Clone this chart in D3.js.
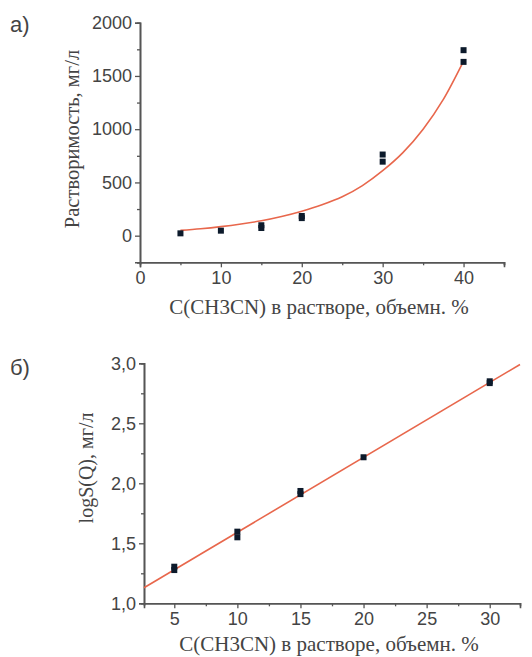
<!DOCTYPE html>
<html lang="ru">
<head>
<meta charset="utf-8">
<title>Растворимость</title>
<script src="https://d3js.org/d3.v7.min.js"></script>
<style>
  body { margin: 0; background: #fff; }
  svg text { fill: #444; }
</style>
</head>
<body>
<svg id="chart" width="532" height="657"></svg>
<script>
// chart a) — solubility vs CH3CN content
var aPointsX = [5, 10, 15, 15, 20, 20, 30, 30, 40, 40];
var aPointsY = [22, 47, 72, 98, 165, 185, 695, 762, 1632, 1742];
var aCurveX = [5, 7.5, 10, 12.5, 15, 17.5, 20, 22.5, 25, 27.5, 30, 32.5, 35, 37.5, 40];
var aCurveY = [50, 65, 85, 110, 140, 180, 230, 290, 365, 470, 610, 780, 1000, 1280, 1640];
var aYTicks = [0, 500, 1000, 1500, 2000];
var aXTicks = [0, 10, 20, 30, 40];

// chart б) — log of solubility
var bPointsX = [5, 5, 10, 10, 15, 15, 20, 30, 30];
var bPointsY = [1.277, 1.305, 1.55, 1.597, 1.91, 1.936, 2.217, 2.835, 2.85];
var bLineX = [2.6, 32.4];
var bLineY = [1.13, 2.99];
var bYTicks = [1.0, 1.5, 2.0, 2.5, 3.0];
var bXTicks = [5, 10, 15, 20, 25, 30];

var xTitle = "C(CH3CN) в растворе, объемн. %";

var svg = d3.select("#chart");
var axisColor = "#555";
var lineColor = "#e8674c";
var markColor = "#0c1a2b";

function drawPanel(opt) {
  var g = svg.append("g");
  var x = d3.scaleLinear().domain(opt.xDomain).range(opt.xRange);
  var y = d3.scaleLinear().domain(opt.yDomain).range(opt.yRange);

  // minor ticks
  var yAxisMinor = d3.axisLeft(y).tickValues(opt.yMinor).tickSize(3).tickFormat("");
  var xAxisMinor = d3.axisBottom(x).tickValues(opt.xMinor).tickSize(3).tickFormat("");
  g.append("g").attr("transform", "translate(" + opt.xRange[0] + ",0)").call(yAxisMinor);
  g.append("g").attr("transform", "translate(0," + opt.yRange[0] + ")").call(xAxisMinor);

  var yAxis = d3.axisLeft(y).tickValues(opt.yTicks).tickSize(5).tickPadding(3).tickFormat(opt.yFmt);
  var xAxis = d3.axisBottom(x).tickValues(opt.xTicks).tickSize(5).tickPadding(4).tickFormat(d3.format("d"));
  g.append("g").attr("transform", "translate(" + opt.xRange[0] + ",0)").call(yAxis);
  g.append("g").attr("transform", "translate(0," + opt.yRange[0] + ")").call(xAxis);

  g.selectAll(".domain").attr("stroke", axisColor).attr("stroke-width", 1.6);
  g.selectAll(".tick line").attr("stroke", axisColor).attr("stroke-width", 1.3);
  g.selectAll(".tick text")
    .style("font-family", "'Liberation Sans', Arial, sans-serif")
    .style("font-size", "18px")
    .attr("fill", "#555");

  // fitted line
  var line = d3.line().x(function(d) { return x(d[0]); }).y(function(d) { return y(d[1]); }).curve(d3.curveMonotoneX);
  g.append("path")
    .datum(opt.lineX.map(function(v, i) { return [v, opt.lineY[i]]; }))
    .attr("d", line)
    .attr("fill", "none")
    .attr("stroke", lineColor)
    .attr("stroke-width", 1.6);

  // points
  g.selectAll("rect.pt")
    .data(opt.ptsX.map(function(v, i) { return [v, opt.ptsY[i]]; }))
    .enter().append("rect")
    .attr("class", "pt")
    .attr("x", function(d) { return x(d[0]) - 3; })
    .attr("y", function(d) { return y(d[1]) - 3; })
    .attr("width", 6)
    .attr("height", 6)
    .attr("fill", markColor);

  // titles
  g.append("text")
    .attr("x", opt.xTitlePos[0]).attr("y", opt.xTitlePos[1])
    .attr("text-anchor", "middle")
    .style("font-family", "'Liberation Serif', 'Times New Roman', serif")
    .style("font-size", "21px")
    .attr("fill", "#555")
    .text(xTitle);
  g.append("text")
    .attr("transform", "translate(" + opt.yTitlePos[0] + "," + opt.yTitlePos[1] + ") rotate(-90)")
    .attr("text-anchor", "middle")
    .style("font-family", "'Liberation Serif', 'Times New Roman', serif")
    .style("font-size", opt.yTitleSize)
    .attr("fill", "#555")
    .text(opt.yTitle);
  g.append("text")
    .attr("x", opt.labelPos[0]).attr("y", opt.labelPos[1])
    .style("font-family", "'Liberation Sans', Arial, sans-serif")
    .style("font-size", "22px")
    .attr("fill", "#222")
    .text(opt.label);
}

drawPanel({
  xDomain: [0, 45], xRange: [140, 504],
  yDomain: [-250, 2000], yRange: [262.3, 22.7],
  xTicks: aXTicks, yTicks: aYTicks,
  xMinor: [5, 15, 25, 35, 45], yMinor: [-250, 250, 750, 1250, 1750],
  yFmt: d3.format("d"),
  lineX: aCurveX, lineY: aCurveY,
  ptsX: aPointsX, ptsY: aPointsY,
  xTitlePos: [319, 314], yTitlePos: [79, 139],
  yTitle: "Растворимость, мг/л", yTitleSize: "20.5px",
  label: "а)", labelPos: [10, 32]
});

drawPanel({
  xDomain: [2.6, 32.4], xRange: [144, 520],
  yDomain: [1.0, 3.0], yRange: [603.3, 363.3],
  xTicks: bXTicks, yTicks: bYTicks,
  xMinor: [2.5, 7.5, 12.5, 17.5, 22.5, 27.5, 32.5].filter(function(v) { return v >= 2.6 && v <= 32.4; }),
  yMinor: [1.25, 1.75, 2.25, 2.75],
  yFmt: function(d) { return d3.format(".1f")(d).replace(".", ","); },
  lineX: bLineX, lineY: bLineY,
  ptsX: bPointsX, ptsY: bPointsY,
  xTitlePos: [329, 651], yTitlePos: [93, 468],
  yTitle: "logS(Q), мг/л", yTitleSize: "20px",
  label: "б)", labelPos: [10, 375]
});
</script>
</body>
</html>
